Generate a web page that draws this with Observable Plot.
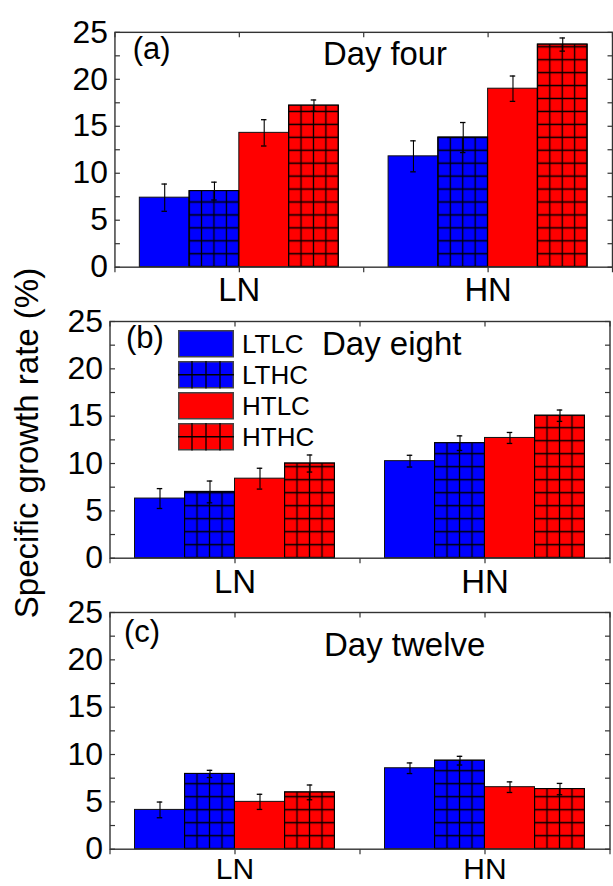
<!DOCTYPE html>
<html><head><meta charset="utf-8">
<script src="https://cdn.jsdelivr.net/npm/d3@7"></script>
<script src="https://cdn.jsdelivr.net/npm/@observablehq/plot@0.6"></script>
<style>
html,body{margin:0;padding:0;background:#fff;overflow:hidden;}
#root{position:relative;width:613px;height:886px;overflow:hidden;font-family:"Liberation Sans",Arial,sans-serif;color:#000;}
.panel{position:absolute;left:0;}
.legend-row{position:absolute;left:178px;height:28px;display:flex;align-items:center;}
.legend-row span{font-size:26px;margin-left:8px;line-height:28px;}
</style></head><body><div id="root"></div>
<script>
// ---------- data ----------
const groups = ["LN", "HN"];
const series = ["LTLC", "LTHC", "HTLC", "HTHC"];
const seriesColors = ["#0000ff", "#0000ff", "#ff0000", "#ff0000"];
const seriesHatched = [false, true, false, true];
const panelTags = ["(a)", "(b)", "(c)"];
const panelTitles = ["Day four", "Day eight", "Day twelve"];
const yTicks = [0, 5, 10, 15, 20, 25];
const yMinorTicks = [0, 2.5, 5, 7.5, 10, 12.5, 15, 17.5, 20, 22.5, 25];
const yLabel = "Specific growth rate (%)";

// [LN values by series], [HN values by series]
const day4Mean  = [[7.4, 8.1, 14.3, 17.2], [11.8, 13.8, 19.0, 23.7]];
const day4Err   = [[1.45, 0.95, 1.4, 0.6], [1.65, 1.6, 1.35, 0.7]];
const day8Mean  = [[6.3, 7.0, 8.4, 10.0], [10.25, 12.15, 12.7, 15.05]];
const day8Err   = [[1.05, 1.15, 1.1, 0.9], [0.62, 0.77, 0.58, 0.6]];
const day12Mean = [[4.15, 7.95, 5.0, 6.0], [8.55, 9.35, 6.55, 6.35]];
const day12Err  = [[0.83, 0.38, 0.8, 0.78], [0.56, 0.46, 0.56, 0.6]];

const FONT = "Liberation Sans, Arial, sans-serif";
const root = document.getElementById("root");

function buildData(means, errs) {
  const out = [];
  groups.forEach((g, gi) => series.forEach((s, si) => out.push({
    group: g, series: s, gi, si, value: means[gi][si], err: errs[gi][si],
    color: seriesColors[si], hatched: seriesHatched[si]
  })));
  return out;
}
const bx1 = d => d.gi + 0.1 + 0.2 * d.si;
const bx2 = d => d.gi + 0.3 + 0.2 * d.si;
const bxc = d => d.gi + 0.2 + 0.2 * d.si;
const tickSym = (dx, dy) => ({draw(ctx) { ctx.moveTo(0, 0); ctx.lineTo(dx, dy); }});
const xTickVals = [0, 0.5, 1, 1.5, 2];

function makePanel(k, means, errs, L) {
  const data = buildData(means, errs);
  const pid = "grid" + k;
  const tickStyle = {fill: "none", stroke: "#333", strokeWidth: 1.2};
  const chart = Plot.plot({
    width: L.width, height: L.height,
    marginLeft: L.left, marginRight: L.right, marginTop: L.top, marginBottom: L.bottom,
    style: {background: "none", fontFamily: FONT, overflow: "visible", color: "#000"},
    x: {type: "linear", domain: [0, 2], axis: null},
    y: {domain: [0, 25], axis: null},
    color: {type: "identity"},
    marks: [
      Plot.rectY(data, {x1: bx1, x2: bx2, y: "value", fill: "color", stroke: "#111", strokeWidth: 1}),
      Plot.rectY(data.filter(d => d.hatched), {x1: bx1, x2: bx2, y: "value", fill: `url(#${pid})`, stroke: "#000", strokeWidth: 1}),
      Plot.ruleX(data, {x: bxc, y1: d => d.value - d.err, y2: d => d.value + d.err, stroke: "#000", strokeWidth: 1.1}),
      Plot.ruleY(data, {y: d => d.value + d.err, x1: d => bxc(d) - 0.011, x2: d => bxc(d) + 0.011, stroke: "#000", strokeWidth: 1.3}),
      Plot.ruleY(data, {y: d => d.value - d.err, x1: d => bxc(d) - 0.011, x2: d => bxc(d) + 0.011, stroke: "#000", strokeWidth: 1.3}),
      Plot.frame({stroke: "#333", strokeWidth: 1.4}),
      // inward ticks
      Plot.dot(yMinorTicks, {x: () => 0, y: d => d, symbol: tickSym(5, 0), ...tickStyle}),
      Plot.dot(yMinorTicks, {x: () => 2, y: d => d, symbol: tickSym(-5, 0), ...tickStyle}),
      Plot.dot(xTickVals, {x: d => d, y: () => 25, symbol: tickSym(0, 5), ...tickStyle}),
      Plot.dot(xTickVals, {x: d => d, y: () => 0, symbol: tickSym(0, 5), ...tickStyle}),
      Plot.axisY({ticks: yTicks, tickSize: 0, tickPadding: 7, fontSize: 32, label: null, anchor: "left"}),
      Plot.axisX({ticks: [0.5, 1.5], tickFormat: d => groups[Math.floor(d)], tickSize: 0, tickPadding: L.xPad, fontSize: L.xFont, label: null, anchor: "bottom"}),
      Plot.text([panelTags[k]], {frameAnchor: "top-left", text: d => d, dx: L.tagDx, dy: L.tagDy, lineAnchor: "top", textAnchor: "start", fontSize: 31}),
      Plot.text([panelTitles[k]], {frameAnchor: "top-left", text: d => d, dx: L.titleDx, dy: L.titleDy, lineAnchor: "top", textAnchor: "start", fontSize: 33})
    ]
  });
  // hatch pattern, aligned to bar edges and the baseline via the chart's scales
  const xs = chart.scale("x"), ys = chart.scale("y");
  const cw = (xs.apply(0.3) - xs.apply(0.1)) / 4, ch = 13;
  const ns = "http://www.w3.org/2000/svg";
  const defs = document.createElementNS(ns, "defs");
  const pat = document.createElementNS(ns, "pattern");
  pat.setAttribute("id", pid);
  pat.setAttribute("patternUnits", "userSpaceOnUse");
  pat.setAttribute("width", cw);
  pat.setAttribute("height", ch);
  pat.setAttribute("x", xs.apply(0.3) - cw / 2);
  pat.setAttribute("y", ys.apply(0) - ch / 2);
  const p = document.createElementNS(ns, "path");
  p.setAttribute("d", `M${cw / 2},0V${ch}M0,${ch / 2}H${cw}`);
  p.setAttribute("stroke", "#000");
  p.setAttribute("stroke-width", "1.3");
  p.setAttribute("fill", "none");
  pat.appendChild(p);
  defs.appendChild(pat);
  chart.insertBefore(defs, chart.firstChild);
  const div = document.createElement("div");
  div.className = "panel";
  div.style.top = L.y + "px";
  div.appendChild(chart);
  root.appendChild(div);
}

makePanel(0, day4Mean, day4Err, {y: 0, width: 616, height: 305, left: 115, right: 1, top: 32, bottom: 37,
  tagDx: 18, tagDy: 5, titleDx: 209, titleDy: 9, xPad: 11, xFont: 33});
makePanel(1, day8Mean, day8Err, {y: 305, width: 613, height: 285, left: 109.5, right: 3.5, top: 16, bottom: 32.3,
  tagDx: 16, tagDy: 4, titleDx: 212, titleDy: 10, xPad: 11, xFont: 33});
makePanel(2, day12Mean, day12Err, {y: 590, width: 613, height: 296, left: 109.5, right: 3.5, top: 22, bottom: 37.3,
  tagDx: 14, tagDy: 7, titleDx: 214, titleDy: 20, xPad: 8, xFont: 30});

// legend (panel b)
series.forEach((s, i) => {
  const row = document.createElement("div");
  row.className = "legend-row";
  row.style.top = (330 + 31 * i) + "px";
  const w = 56, h = 27.5;
  let grid = "";
  if (seriesHatched[i]) {
    for (let c = 1; c < 4; c++) grid += `<line x1="${c * w / 4}" x2="${c * w / 4}" y1="0" y2="${h}" stroke="#000" stroke-width="1.3"/>`;
    grid += `<line x1="0" x2="${w}" y1="${h / 2}" y2="${h / 2}" stroke="#000" stroke-width="1.3"/>`;
  }
  row.innerHTML = `<svg width="${w}" height="${h}" style="overflow:visible;display:block"><rect x="0.75" y="0.75" width="${w - 1.5}" height="${h - 1.5}" fill="${seriesColors[i]}" stroke="#444" stroke-width="1.5"/>${grid}</svg><span>${s}</span>`;
  root.appendChild(row);
});

// shared y label
const ns = "http://www.w3.org/2000/svg";
const lab = document.createElementNS(ns, "svg");
lab.setAttribute("width", 60); lab.setAttribute("height", 886);
lab.style.position = "absolute"; lab.style.left = "0"; lab.style.top = "0";
const t = document.createElementNS(ns, "text");
t.setAttribute("transform", "translate(38,443) rotate(-90)");
t.setAttribute("text-anchor", "middle");
t.setAttribute("font-size", "33");
t.setAttribute("font-family", FONT);
t.textContent = yLabel;
lab.appendChild(t);
root.appendChild(lab);
</script></body></html>
